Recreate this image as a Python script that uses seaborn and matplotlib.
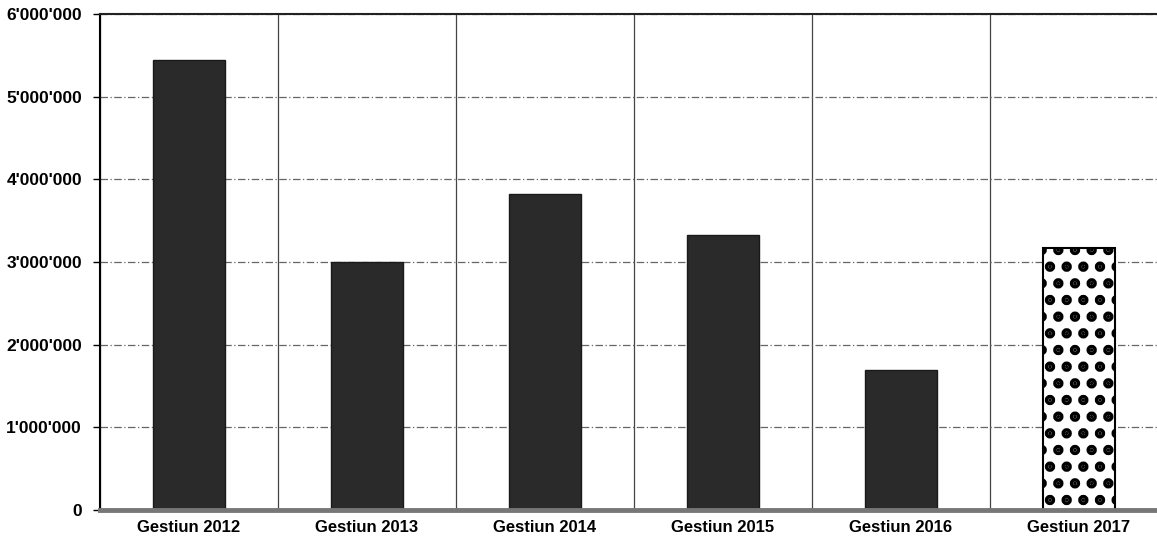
import matplotlib
matplotlib.use("Agg")
import matplotlib.pyplot as plt
import matplotlib.ticker as mticker
import seaborn as sns
import pandas as pd

categories = ["Gestiun 2012", "Gestiun 2013", "Gestiun 2014", "Gestiun 2015", "Gestiun 2016", "Gestiun 2017"]
values = [5440000, 3000000, 3820000, 3330000, 1690000, 3170000]
y_ticks = [0, 1000000, 2000000, 3000000, 4000000, 5000000, 6000000]

sns.set_theme(style="white")
plt.rcParams['font.family'] = ['Liberation Sans', 'DejaVu Sans']
plt.rcParams['hatch.linewidth'] = 5.0

fig = plt.figure(figsize=(11.57, 5.39), dpi=100)
ax = fig.add_axes([100/1157, 1 - 510/539, 1068/1157, (510 - 14)/539])

df = pd.DataFrame({"cat": categories, "val": values})
colors = ["#2a2a2a"] * 5 + ["#ffffff"]
sns.barplot(data=df, x="cat", y="val", hue="cat", palette=colors, legend=False,
            width=0.4, ax=ax, saturation=1, edgecolor="#1a1a1a", linewidth=1)

last = ax.patches[5]
last.set_facecolor("white")
last.set_hatch(".")
last.set_edgecolor("black")
last.set_linewidth(1.5)

ax.set_ylim(0, 6000000)
ax.set_xlim(-0.5, len(categories) - 0.5)
ax.set_yticks(y_ticks)
ax.yaxis.set_major_formatter(mticker.FuncFormatter(lambda v, p: f"{int(v):,}".replace(",", "'")))
ax.set_xticks(range(len(categories)))
ax.set_xticklabels(categories)
ax.set_xticks([i + 0.5 for i in range(-1, len(categories))], minor=True)

ax.set_xlabel("")
ax.set_ylabel("")
ax.set_axisbelow(True)
ax.grid(axis="y", which="major", color="#666666", linestyle=(0, (6, 2, 1, 2)), linewidth=0.9)
ax.grid(axis="x", which="minor", color="#444444", linestyle="-", linewidth=0.9)
ax.grid(axis="x", which="major", visible=False)

for lab in ax.get_xticklabels():
    lab.set_fontweight("bold")
    lab.set_fontsize(12)
    lab.set_color("black")
for lab in ax.get_yticklabels():
    lab.set_fontweight("bold")
    lab.set_fontsize(12.5)
    lab.set_color("black")

ax.tick_params(axis="x", which="major", length=0, pad=7)
ax.tick_params(axis="x", which="minor", length=4, width=2, color="black", direction="out")
ax.tick_params(axis="y", which="major", length=5, width=1, color="black", direction="out", pad=8, left=True)

ax.spines["left"].set_color("black")
ax.spines["left"].set_linewidth(1.5)
ax.spines["top"].set_color("#222222")
ax.spines["top"].set_linewidth(1.5)
ax.spines["bottom"].set_color("#777777")
ax.spines["bottom"].set_linewidth(3.5)
ax.spines["right"].set_visible(False)

fig.savefig("out.png", dpi=100)
